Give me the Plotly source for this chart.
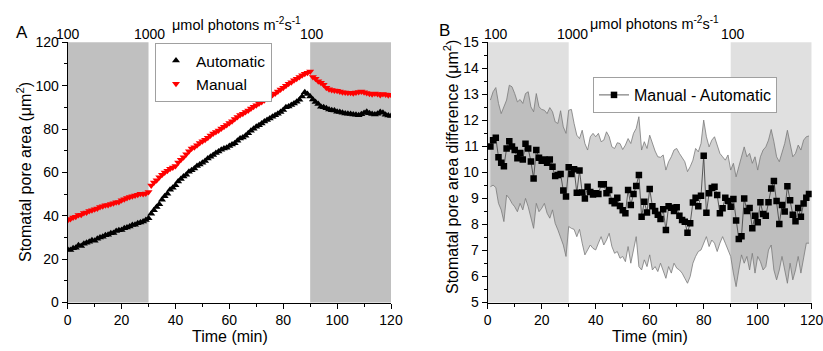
import plotly.graph_objects as go

# ---------------- data ----------------
time_a = list(range(0, 121))
automatic = [
    24.5, 24.2, 25.0, 25.3, 26.4, 26.0, 27.1, 27.5, 28.0, 28.7,
    28.5, 29.4, 30.0, 30.3, 31.0, 31.2, 31.9, 32.1, 33.0, 33.3,
    33.4, 34.2, 34.6, 35.0, 35.7, 35.9, 36.5, 36.9, 37.4, 38.0,
    38.8, 40.9, 42.6, 44.1, 45.3, 47.4, 49.0, 50.2, 52.0, 52.9,
    54.1, 55.8, 56.9, 58.1, 58.9, 60.3, 61.0, 61.8, 62.9, 63.6,
    64.5, 65.2, 66.4, 67.2, 68.0, 69.0, 69.6, 70.4, 71.0, 71.4,
    72.2, 72.9, 73.5, 74.6, 75.6, 76.1, 76.9, 78.0, 79.2, 80.1,
    81.0, 81.8, 82.6, 83.5, 84.2, 84.9, 85.7, 86.4, 87.0, 87.9,
    88.8, 90.0, 90.4, 91.1, 91.8, 92.6, 93.5, 95.0, 97.0, 96.2,
    95.0, 93.6, 92.5, 91.6, 90.3, 90.1, 89.6, 89.0, 88.7, 88.5,
    88.0, 87.8, 87.5, 87.2, 87.0, 86.9, 86.7, 86.6, 86.4, 86.8,
    87.4, 88.0, 87.3, 86.9, 86.7, 87.1, 87.8, 87.5, 86.6, 86.2,
    86.0,
]
manual = [
    37.9, 38.5, 39.2, 39.6, 40.3, 40.5, 41.3, 41.5, 42.2, 42.6,
    43.0, 43.4, 44.1, 44.4, 44.9, 45.0, 45.4, 45.8, 46.2, 46.4,
    47.1, 47.6, 48.2, 48.6, 49.0, 49.3, 49.7, 50.1, 50.0, 50.3,
    51.0, 54.0, 55.3, 56.4, 57.8, 58.9, 60.0, 60.8, 61.7, 62.3,
    63.0, 64.6, 65.8, 67.0, 68.4, 69.7, 71.0, 71.6, 72.5, 73.6,
    74.4, 75.1, 76.0, 77.0, 77.9, 78.6, 79.3, 80.2, 81.0, 81.9,
    82.8, 83.6, 84.6, 85.5, 86.5, 87.1, 87.8, 88.6, 89.5, 90.3,
    91.0, 91.8, 92.5, 93.3, 94.0, 94.9, 95.7, 96.4, 97.3, 98.2,
    99.0, 100.0, 100.9, 101.6, 102.5, 103.2, 104.0, 104.8, 105.5, 106.0,
    106.5, 104.0, 103.2, 102.0, 101.3, 100.4, 99.0, 98.4, 98.0, 97.8,
    97.6, 97.3, 97.0, 96.9, 96.7, 96.7, 96.5, 96.8, 97.1, 97.3,
    97.0, 96.6, 96.3, 96.0, 96.4, 96.2, 95.7, 96.1, 95.9, 95.6,
    95.8,
]

time_b = list(range(1, 120))
diff_mean = [
    11.0, 11.24, 11.33, 10.58, 10.37, 10.24, 10.92, 11.2, 11.0, 10.86,
    10.54, 10.75, 10.5, 11.1, 10.92, 10.42, 9.77, 10.86, 10.56, 10.45,
    10.5, 10.37, 10.5, 10.22, 9.86, 9.9, 9.94, 9.3, 9.07, 10.2,
    9.94, 10.12, 9.22, 10.07, 9.23, 9.0, 9.45, 9.25, 9.15, 9.2,
    9.17, 9.54, 9.54, 9.2, 9.32, 8.9, 8.81, 9.03, 8.71, 8.55,
    8.43, 9.32, 8.75, 9.17, 9.48, 9.9, 8.3, 8.87, 8.46, 9.36,
    8.7, 8.52, 8.37, 8.21, 8.58, 7.79, 8.7, 8.64, 8.52, 8.66,
    8.33, 8.17, 8.1, 7.68, 8.05, 8.84, 9.03, 8.7, 9.1, 10.64,
    8.45, 9.2, 9.4, 9.45, 9.13, 8.43, 8.62, 9.03, 8.9, 8.68,
    8.98, 8.15, 7.44, 7.55, 9.0, 8.52, 8.63, 7.85, 8.33, 8.08,
    8.85, 8.4, 8.33, 8.85, 9.38, 9.67, 8.9, 8.02, 8.75, 8.5,
    9.47, 8.93, 8.37, 8.12, 8.63, 8.3, 8.8, 9.03, 9.17,
]
diff_upper = [
    12.78, 13.1, 13.26, 12.65, 12.26, 12.52, 12.78, 13.35, 13.29, 13.03,
    12.71, 12.8, 12.65, 13.03, 13.1, 12.52, 12.33, 13.03, 12.52, 12.42,
    12.39, 12.26, 12.49, 12.33, 11.94, 11.88, 12.37, 11.75, 11.5, 12.39,
    12.42, 11.88, 11.43, 11.3, 11.62, 11.11, 10.86, 11.37, 11.5, 11.37,
    11.5, 11.18, 11.24, 11.56, 11.37, 10.98, 10.92, 11.14, 11.11, 10.88,
    11.05, 11.3, 11.11, 11.5, 11.69, 12.14, 10.86, 11.18, 10.92, 11.43,
    11.11, 10.82, 10.6, 10.58, 10.67, 10.09, 10.41, 10.6, 10.86, 10.92,
    10.73, 10.54, 10.41, 10.03, 10.22, 10.47, 10.92, 10.79, 11.11, 12.01,
    11.37, 10.98, 11.24, 11.37, 11.05, 10.73, 10.6, 10.47, 10.67, 10.09,
    10.35, 9.83, 10.22, 10.6, 10.98, 10.6, 10.73, 10.35, 10.6, 10.09,
    10.6, 10.86, 10.98, 11.24, 11.65, 11.18, 10.6, 10.41, 10.73, 11.11,
    11.62, 11.05, 10.6, 10.73, 11.05, 10.86, 11.24, 11.37, 11.4,
]
diff_lower = [
    9.45, 9.51, 9.42, 8.81, 8.56, 8.11, 9.13, 9.0, 8.81, 8.68,
    8.49, 8.81, 8.56, 9.0, 8.68, 8.3, 7.85, 8.81, 8.49, 8.62,
    8.81, 8.43, 8.24, 8.56, 8.04, 7.79, 7.53, 7.21, 6.77, 7.92,
    7.85, 7.81, 7.53, 7.81, 7.28, 6.83, 7.02, 7.21, 7.08, 7.02,
    7.28, 7.53, 7.21, 7.4, 7.66, 7.15, 6.89, 6.96, 6.7, 6.77,
    6.57, 7.15, 6.51, 6.96, 7.53, 6.38, 6.25, 6.64, 6.38, 6.83,
    6.25, 6.38, 6.19, 6.51, 6.25, 5.93, 6.38, 6.13, 6.51, 6.32,
    6.25, 6.13, 5.93, 5.74, 6.0, 6.51, 6.77, 6.96, 7.02, 7.28,
    7.53, 7.15, 7.4, 7.28, 6.96, 7.28, 7.53, 7.28, 7.02, 6.77,
    6.13, 5.61, 6.25, 6.83, 6.51, 6.77, 6.25, 6.89, 6.13, 6.77,
    6.57, 6.25, 6.38, 7.02, 7.21, 6.25, 5.87, 6.25, 6.77, 6.25,
    5.74, 6.51, 5.87, 6.25, 6.77, 6.13, 6.77, 7.28, 7.28,
]

x_tick_vals = [0, 20, 40, 60, 80, 100, 120]
light_labels = ["100", "1000", "100"]
light_unit = "\u03bcmol photons m<sup>-2</sup>s<sup>-1</sup>"
shade_spans = [(0, 30), (90, 120)]

assert len(automatic) == len(time_a) and len(manual) == len(time_a)
assert len(diff_mean) == len(time_b) == len(diff_upper) == len(diff_lower)

# ---------------- figure ----------------
W, H = 823, 351
FONT = "Arial, 'Liberation Sans', sans-serif"


def px_x(p):
    return p / W


def px_y(p):
    return 1 - p / H


fig = go.Figure()

fig.add_trace(go.Scatter(
    x=time_a, y=automatic, mode="markers", name="Automatic",
    marker=dict(symbol="triangle-up", color="black", size=7, line=dict(width=0)),
    xaxis="x", yaxis="y", legend="legend"))
fig.add_trace(go.Scatter(
    x=time_a, y=manual, mode="markers", name="Manual",
    marker=dict(symbol="triangle-down", color="#ff0000", size=7, line=dict(width=0)),
    xaxis="x", yaxis="y", legend="legend"))

fig.add_trace(go.Scatter(
    x=time_b, y=diff_lower, mode="lines", line=dict(color="#7a7a7a", width=0.8),
    showlegend=False, hoverinfo="skip", xaxis="x2", yaxis="y2"))
fig.add_trace(go.Scatter(
    x=time_b, y=diff_upper, mode="lines", line=dict(color="#7a7a7a", width=0.8),
    fill="tonexty", fillcolor="rgba(120,120,120,0.33)",
    showlegend=False, hoverinfo="skip", xaxis="x2", yaxis="y2"))
fig.add_trace(go.Scatter(
    x=time_b, y=diff_mean, mode="lines+markers", name="Manual - Automatic",
    line=dict(color="#3a3a3a", width=0.8),
    marker=dict(symbol="square", color="black", size=6.5),
    xaxis="x2", yaxis="y2", legend="legend2"))

shapes = []
for x0, x1 in shade_spans:
    shapes.append(dict(type="rect", xref="x", yref="y domain", x0=x0, x1=x1, y0=0, y1=1,
                       fillcolor="#c0c0c0", line=dict(width=0), layer="below"))
    shapes.append(dict(type="rect", xref="x2", yref="y2 domain", x0=x0, x1=x1, y0=0, y1=1,
                       fillcolor="#e0e0e0", line=dict(width=0), layer="below"))

axis_common = dict(
    showline=True, linecolor="black", linewidth=1, mirror=False,
    ticks="outside", ticklen=5, tickwidth=1, tickcolor="black",
    showgrid=False, zeroline=False, automargin=False,
    ticklabeloverflow="allow",
    tickfont=dict(family=FONT, size=14, color="black"),
)

y_dom = [px_y(302.5), px_y(42.3)]

fig.update_layout(
    width=W, height=H,
    margin=dict(l=0, r=0, t=0, b=0),
    paper_bgcolor="white", plot_bgcolor="white",
    font=dict(family=FONT, color="black"),
    shapes=shapes,
    xaxis=dict(domain=[px_x(67.7), px_x(391)], range=[0, 120], tickvals=x_tick_vals,
               minor=dict(dtick=10, tick0=0, ticklen=3, ticks="outside", tickcolor="black"),
               anchor="y", **axis_common),
    yaxis=dict(domain=y_dom, range=[0, 120], dtick=20, tick0=0,
               minor=dict(dtick=10, tick0=0, ticklen=3, ticks="outside", tickcolor="black"),
               anchor="x", **axis_common),
    xaxis2=dict(domain=[px_x(487.7), px_x(811.7)], range=[0, 120], tickvals=x_tick_vals,
                minor=dict(dtick=10, tick0=0, ticklen=3, ticks="outside", tickcolor="black"),
                anchor="y2", **axis_common),
    yaxis2=dict(domain=y_dom, range=[5, 15], dtick=1, tick0=5,
                minor=dict(dtick=0.5, tick0=5, ticklen=3, ticks="outside", tickcolor="black"),
                anchor="x2", **axis_common),
    legend=dict(x=px_x(155), y=px_y(43), xanchor="left", yanchor="top",
                bgcolor="white", bordercolor="#a0a0a0", borderwidth=1, traceorder="normal",
                font=dict(family=FONT, size=15.5, color="black"), tracegroupgap=0),
    legend2=dict(x=px_x(593), y=px_y(77), xanchor="left", yanchor="top",
                 bgcolor="white", bordercolor="#a0a0a0", borderwidth=1, traceorder="normal",
                 font=dict(family=FONT, size=16, color="black")),
)

ann = []


def text(x, y, s, size=14, angle=0):
    ann.append(dict(x=px_x(x), y=px_y(y), xref="paper", yref="paper", text=s,
                    showarrow=False, xanchor="center", yanchor="middle",
                    textangle=angle, font=dict(family=FONT, size=size, color="black")))


# panel letters
text(22, 32, "A", 17)
text(444, 30, "B", 17)
# light intensity labels
for lbl, xp in zip(light_labels, [67.8, 149, 312]):
    text(xp, 34, lbl, 14)
for lbl, xp in zip(light_labels, [496, 572, 733]):
    text(xp, 34, lbl, 14)
text(237, 24, light_unit, 14.5)
text(654, 23, light_unit, 14.5)
# axis titles
text(229.5, 336, "Time (min)", 16)
text(650, 336, "Time (min)", 16)
text(24, 172, "Stomatal pore area (\u03bcm<sup>2</sup>)", 16, -90)
text(451, 167, "Stomatal pore area difference (\u03bcm<sup>2</sup>)", 16, -90)

fig.update_layout(annotations=ann)

fig.write_html(
    "out.html",
    config={"displayModeBar": False},
    post_script="document.body.style.margin='0';document.body.style.overflow='hidden';",
)
